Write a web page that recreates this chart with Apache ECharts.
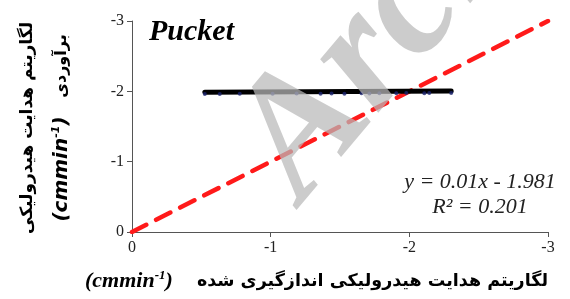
<!DOCTYPE html>
<html>
<head>
<meta charset="utf-8">
<script src="https://cdn.jsdelivr.net/npm/echarts@6/dist/echarts.min.js"></script>
<style>
  html, body { margin: 0; padding: 0; background: #fff; }
  #chart { width: 570px; height: 299px; }
</style>
</head>
<body>
<div id="chart"></div>
<script>
  // measured vs. estimated log hydraulic conductivity (Pucket)
  var measuredLog = [-0.525, -0.633, -0.777, -1.014, -1.187, -1.360, -1.439, -1.532,
    -1.655, -1.712, -1.784, -1.906, -1.978, -2.108, -2.144, -2.302]
  var estimatedLog = [-1.962, -1.963, -1.965, -1.964, -1.968, -1.966, -1.970, -1.967,
    -1.971, -1.969, -1.973, -1.972, -1.975, -1.974, -1.977, -1.978]
  // 1:1 line
  var oneToOne = [[0, 0], [-3, -3]]
  // trend line from the shown equation
  var slope = 0.01
  var intercept = -1.981
  var r2 = 0.201
  var trendX = [-0.525, -2.302]
  var axisTicks = [0, -1, -2, -3]

  var points = measuredLog.map(function (x, i) { return [x, estimatedLog[i]] })
  var trend = trendX.map(function (x) { return [x, slope * x + intercept] })

  var serif = "'Liberation Serif', 'Times New Roman', serif"
  var fa = "'DejaVu Sans', sans-serif"

  var chart = echarts.init(document.getElementById('chart'))
  chart.setOption({
    animation: false,
    grid: { left: 132, right: 22, top: 21, bottom: 67 },
    xAxis: {
      type: 'value', min: -3, max: 0, interval: 1, inverse: true,
      splitLine: { show: false },
      axisLine: { lineStyle: { color: '#555', width: 1 } },
      axisTick: { length: 5, lineStyle: { color: '#555' } },
      axisLabel: { color: '#222', fontSize: 16, fontFamily: serif, margin: 8,
        formatter: function (v) { return axisTicks.indexOf(v) >= 0 ? String(v) : '' } }
    },
    yAxis: {
      type: 'value', min: -3, max: 0, interval: 1, inverse: true,
      splitLine: { show: false },
      axisLine: { show: true, lineStyle: { color: '#555', width: 1 } },
      axisTick: { show: true, length: 5, lineStyle: { color: '#555' } },
      axisLabel: { color: '#222', fontSize: 16, fontFamily: serif, margin: 8 }
    },
    series: [
      {
        type: 'line', data: oneToOne, symbol: 'none', z: 2,
        lineStyle: { color: '#ff1a1a', width: 4.5, type: [16, 11], cap: 'round' }
      },
      {
        type: 'line', data: trend, symbol: 'none', z: 3,
        lineStyle: { color: '#000', width: 5, cap: 'round' }
      },
      {
        type: 'scatter', data: points, symbolSize: 4, z: 4,
        itemStyle: { color: '#1c2470' }
      }
    ],
    graphic: [
      {
        type: 'text', left: 149, top: 17,
        style: { text: 'Pucket', font: 'italic bold 30px ' + serif, fill: '#000' }
      },
      {
        type: 'text', x: 480, y: 170,
        style: {
          text: 'y = ' + slope.toFixed(2) + 'x - ' + Math.abs(intercept) + '\nR² = ' + r2,
          font: 'italic 22px ' + serif, fill: '#222', align: 'center', lineHeight: 25
        }
      },
      // x axis title
      {
        type: 'text', x: 548, y: 281,
        style: { text: 'لگاریتم هدایت هیدرولیکی اندازگیری شده', font: 'bold 17.5px ' + fa,
          fill: '#000', align: 'right', verticalAlign: 'middle' }
      },
      {
        type: 'text', x: 85, y: 269,
        style: {
          text: '{a|(cmmin}{s|-1}{a|)}',
          rich: {
            a: { font: 'italic bold 22px ' + serif, fill: '#000', verticalAlign: 'bottom', height: 24 },
            s: { font: 'italic bold 13px ' + serif, fill: '#000', verticalAlign: 'top', height: 13 }
          }
        }
      },
      // y axis title, two rotated lines
      {
        type: 'text', x: 28, y: 128, rotation: Math.PI / 2,
        style: { text: 'لگاریتم هدایت هیدرولیکی', font: 'bold 17px ' + fa,
          fill: '#000', align: 'center', verticalAlign: 'middle' }
      },
      {
        type: 'text', x: 62, y: 66, rotation: Math.PI / 2,
        style: { text: 'برآوردی', font: 'bold 16px ' + fa,
          fill: '#000', align: 'center', verticalAlign: 'middle' }
      },
      {
        type: 'text', x: 62, y: 169, rotation: Math.PI / 2,
        style: {
          text: '{a|(cmmin}{s|-1}{a|)}', align: 'center', verticalAlign: 'middle',
          rich: {
            a: { font: 'italic bold 20px ' + fa, fill: '#000', verticalAlign: 'bottom', height: 22 },
            s: { font: 'italic bold 11px ' + fa, fill: '#000', verticalAlign: 'top', height: 11 }
          }
        }
      },
      // watermark
      {
        type: 'text', x: 334, y: 230, rotation: 50 * Math.PI / 180, z: 100,
        style: { text: 'Archive', font: 'italic bold 172px ' + serif,
          fill: 'rgba(185,185,185,0.72)', verticalAlign: 'bottom' }
      }
    ]
  })
</script>
</body>
</html>
